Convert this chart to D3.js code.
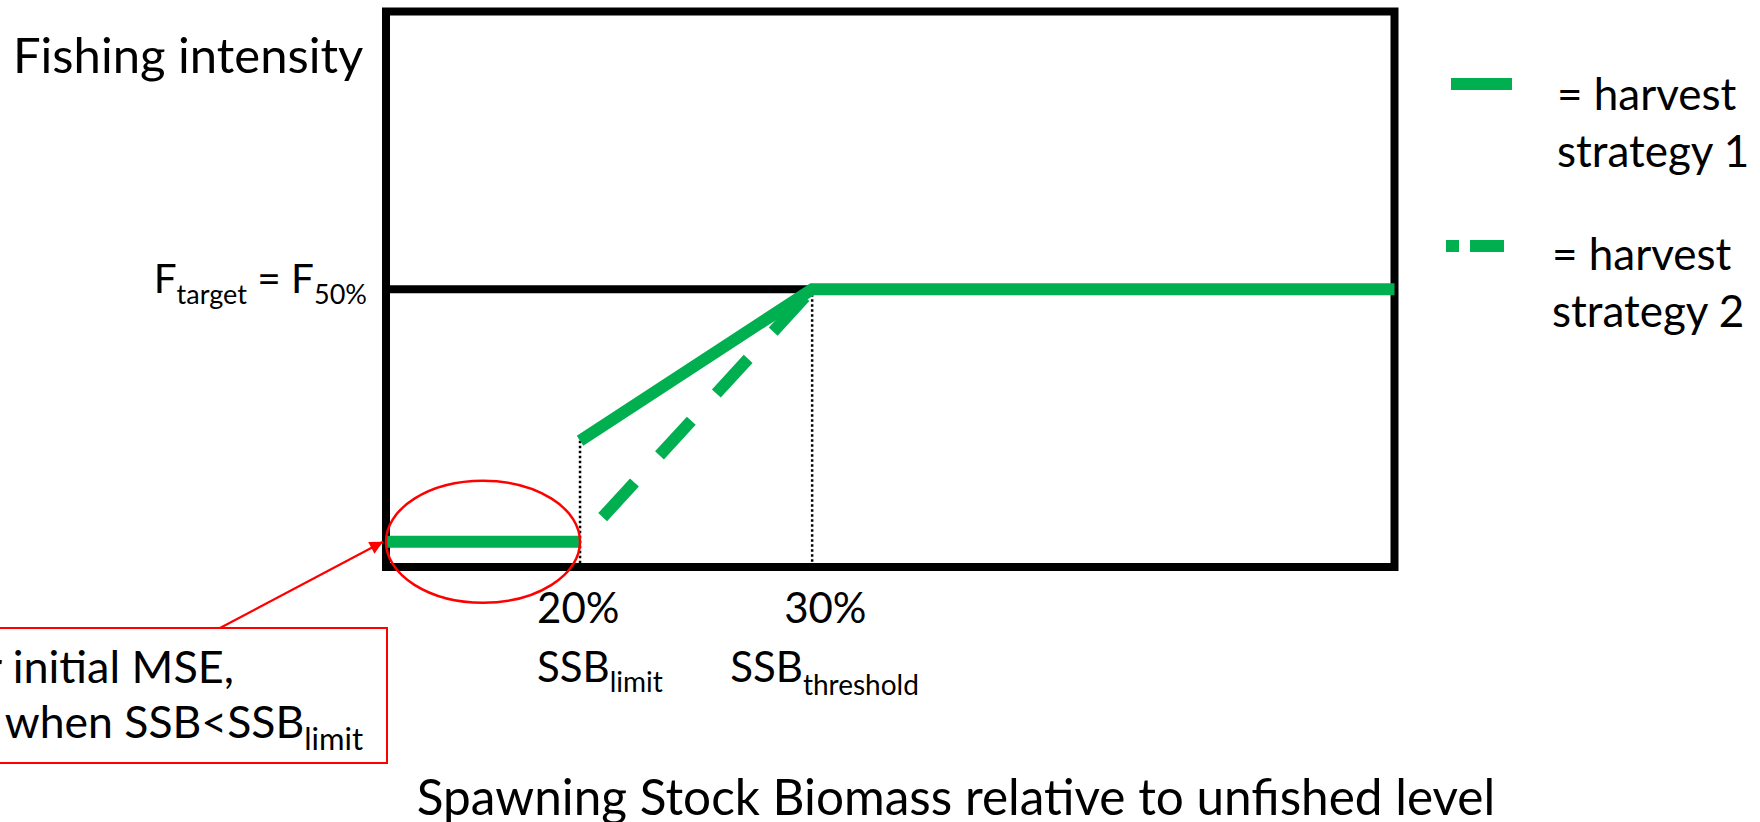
<!DOCTYPE html>
<html>
<head>
<meta charset="utf-8">
<script src="https://cdn.jsdelivr.net/npm/d3@7/dist/d3.min.js"></script>
<style>
  html, body { margin: 0; padding: 0; background: #fff; }
  svg { display: block; }
  text { font-family: Lato, "Open Sans", sans-serif; fill: #000; }
</style>
</head>
<body>
<svg id="chart" width="1760" height="822"></svg>
<script>
// Harvest control rules: fishing intensity (relative to F target) against
// spawning stock biomass relative to the unfished level.
const ssbExtent = [0.1164, 0.5509];      // SSB fraction shown across the frame
const fExtent = [-0.1, 2.1];              // F relative to F target shown up the frame
const refPoints = [0.20, 0.30];           // SSB limit and SSB threshold
const refPercent = ["20%", "30%"];
const refNames = ["limit", "threshold"];
const fTarget = 1.0;                      // F target = F 50%

// harvest strategy 1: F = 0 below the limit, jump then ramp to target at threshold
const strategy1 = [
  { ssb: 0.1164, f: 0 }, { ssb: 0.20, f: 0 }, null,
  { ssb: 0.20, f: 0.40 }, { ssb: 0.30, f: 1.0 }, { ssb: 0.5509, f: 1.0 }
];
// harvest strategy 2: linear ramp from 0 at the limit to target at threshold
const strategy2 = [{ ssb: 0.20, f: 0 }, { ssb: 0.30, f: 1.0 }];

const legendLabels = [["= harvest", "strategy 1"], ["= harvest", "strategy 2"]];
const yTitle = "Fishing intensity";
const xTitle = "Spawning Stock Biomass relative to unfished level";

const GREEN = "#00B050";
const RED = "#FF0000";

const svg = d3.select("#chart");
const x = d3.scaleLinear().domain(ssbExtent).range([386, 1394.5]);
const y = d3.scaleLinear().domain(fExtent).range([567, 11.5]);

const line = d3.line().defined(d => d).x(d => x(d.ssb)).y(d => y(d.f));

// F target reference line
svg.append("line")
  .attr("x1", x(ssbExtent[0])).attr("x2", x(refPoints[1]))
  .attr("y1", y(fTarget)).attr("y2", y(fTarget))
  .attr("stroke", "#000").attr("stroke-width", 8);

// dotted drop lines at the reference points
const dropTops = [0.40, fTarget];
svg.selectAll("line.drop").data(refPoints).join("line")
  .attr("class", "drop")
  .attr("x1", d => x(d)).attr("x2", d => x(d))
  .attr("y1", (d, i) => y(dropTops[i])).attr("y2", y(fExtent[0]))
  .attr("stroke", "#000").attr("stroke-width", 2.5)
  .attr("stroke-dasharray", "2.5 2.5");

// frame
svg.append("rect")
  .attr("x", x(ssbExtent[0])).attr("y", y(fExtent[1]))
  .attr("width", x(ssbExtent[1]) - x(ssbExtent[0]))
  .attr("height", y(fExtent[0]) - y(fExtent[1]))
  .attr("fill", "none").attr("stroke", "#000").attr("stroke-width", 8);

// strategy 2 (dashed)
svg.append("path").datum(strategy2)
  .attr("d", line)
  .attr("fill", "none").attr("stroke", GREEN).attr("stroke-width", 12)
  .attr("stroke-dasharray", "47 37").attr("stroke-dashoffset", 50.6);

// strategy 1 (solid)
svg.append("path").datum(strategy1)
  .attr("d", line)
  .attr("fill", "none").attr("stroke", GREEN).attr("stroke-width", 12)
  .attr("stroke-linejoin", "miter");

// red ellipse around the F = 0 segment
svg.append("ellipse")
  .attr("cx", (x(ssbExtent[0]) + x(refPoints[0])) / 2)
  .attr("cy", y(0))
  .attr("rx", (x(refPoints[0]) - x(ssbExtent[0])) / 2)
  .attr("ry", 61)
  .attr("fill", "none").attr("stroke", RED).attr("stroke-width", 2.5);

// axis titles
svg.append("text").attr("x", 13).attr("y", 73)
  .attr("font-size", 49).text(yTitle);
svg.append("text").attr("x", 956).attr("y", 815)
  .attr("text-anchor", "middle").attr("font-size", 49.5).text(xTitle);

// F target label
const ft = svg.append("text").attr("x", x(ssbExtent[0]) - 19).attr("y", y(fTarget) + 4)
  .attr("text-anchor", "end").attr("font-size", 40.5);
ft.append("tspan").text("F");
ft.append("tspan").attr("font-size", 27).attr("dy", 11).text("target");
ft.append("tspan").attr("dy", -11).text(" = F");
ft.append("tspan").attr("font-size", 27).attr("dy", 11).text("50%");

// reference point labels
const pctOffsets = [-43, -28];
const nameOffsets = [-43, -82];
const subShift = [10, 13];
refPoints.forEach((p, i) => {
  svg.append("text").attr("x", x(p) + pctOffsets[i]).attr("y", 623)
    .attr("font-size", 42).text(refPercent[i]);
  const t = svg.append("text").attr("x", x(p) + nameOffsets[i]).attr("y", 682)
    .attr("font-size", 42);
  t.append("tspan").text("SSB");
  t.append("tspan").attr("font-size", 28).attr("dy", subShift[i]).text(refNames[i]);
});

// legend
const legendY = [84, 246];
svg.append("line").attr("x1", 1451).attr("x2", 1512)
  .attr("y1", legendY[0]).attr("y2", legendY[0])
  .attr("stroke", GREEN).attr("stroke-width", 12);
svg.append("line").attr("x1", 1446).attr("x2", 1504)
  .attr("y1", legendY[1]).attr("y2", legendY[1])
  .attr("stroke", GREEN).attr("stroke-width", 12)
  .attr("stroke-dasharray", "13 11 34");
const legendX = [1557, 1552];
const legendBase = [110, 270];
legendLabels.forEach((lines, i) => {
  lines.forEach((s, j) => {
    svg.append("text").attr("x", legendX[i]).attr("y", legendBase[i] + j * 57)
      .attr("font-size", 44).text(s);
  });
});

// annotation box with arrow
svg.append("rect").attr("x", -80).attr("y", 628).attr("width", 467).attr("height", 135)
  .attr("fill", "none").attr("stroke", RED).attr("stroke-width", 2);
const defs = svg.append("defs");
defs.append("marker").attr("id", "arrowHead")
  .attr("viewBox", "0 0 10 10").attr("refX", 10).attr("refY", 5)
  .attr("markerWidth", 7).attr("markerHeight", 6).attr("orient", "auto")
  .attr("markerUnits", "strokeWidth")
  .append("path").attr("d", "M0,0 L10,5 L0,10 Z").attr("fill", RED);
svg.append("line").attr("x1", 220).attr("y1", 628)
  .attr("x2", x(ssbExtent[0]) - 3).attr("y2", y(0))
  .attr("stroke", RED).attr("stroke-width", 2.2)
  .attr("marker-end", "url(#arrowHead)");
svg.append("text").attr("x", 234).attr("y", 683).attr("text-anchor", "end")
  .attr("font-size", 45).text("For initial MSE,");
const an = svg.append("text").attr("x", 363).attr("y", 738).attr("text-anchor", "end")
  .attr("font-size", 44.5);
an.append("tspan").text("F=0 when SSB<SSB");
an.append("tspan").attr("font-size", 31).attr("dy", 12).text("limit");
</script>
</body>
</html>
